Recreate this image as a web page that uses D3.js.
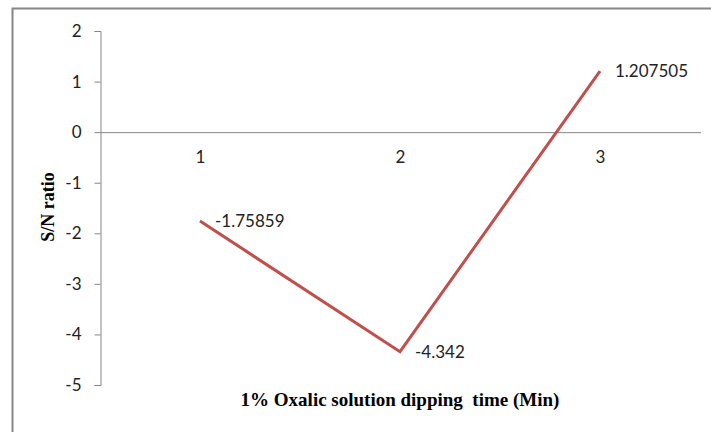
<!DOCTYPE html>
<html><head><meta charset="utf-8">
<script src="https://cdn.jsdelivr.net/npm/d3@7"></script>
<style>body{margin:0;background:#fff}svg{display:block}</style>
</head><body>
<svg id="c" width="711" height="432"></svg>
<script>
const categories = ["1", "2", "3"];
const snValues = [-1.75859, -4.342, 1.207505];
const valueLabels = ["-1.75859", "-4.342", "1.207505"];
const yTicks = [2, 1, 0, -1, -2, -3, -4, -5];
const xTitle = "1% Oxalic solution dipping  time (Min)";
const yTitle = "S/N ratio";

const labelFont = "Lato, 'Open Sans', sans-serif";
const titleFont = "'Liberation Serif', 'Times New Roman', serif";

const svg = d3.select("#c");
svg.append("rect").attr("x", 12.5).attr("y", 8.5).attr("width", 710).attr("height", 440)
  .attr("fill", "none").attr("stroke", "#868686").attr("stroke-width", 2);

const x = d3.scalePoint().domain(categories).range([100, 700]).padding(0.5);
const y = d3.scaleLinear().domain([-5, 2]).range([385, 31]);

const yAxis = d3.axisLeft(y).tickValues(yTicks).tickSize(6).tickPadding(13).tickFormat(d => String(d));
const gy = svg.append("g").attr("transform", "translate(100.5,0)").call(yAxis);
gy.select(".domain").attr("stroke", "#868686");
gy.selectAll(".tick line").attr("stroke", "#868686");
gy.selectAll(".tick text").attr("font-family", labelFont).attr("font-size", 17).attr("fill", "#222");

const xAxis = d3.axisBottom(x).tickSize(0).tickPadding(19);
const gx = svg.append("g").attr("transform", `translate(0,${y(0)})`).call(xAxis);
gx.select(".domain").attr("stroke", "#868686").attr("d", "M100,0.5H701");
gx.selectAll(".tick text").attr("font-family", labelFont).attr("font-size", 17).attr("fill", "#222");

const line = d3.line().x((d, i) => x(categories[i])).y(d => y(d));
svg.append("path").datum(snValues).attr("d", line)
  .attr("fill", "none").attr("stroke", "#C0504D").attr("stroke-width", 3);

svg.selectAll(".vl").data(snValues).enter().append("text")
  .attr("x", (d, i) => x(categories[i]) + 15)
  .attr("y", d => y(d) + 6)
  .attr("font-family", labelFont).attr("font-size", 17).attr("fill", "#222")
  .text((d, i) => valueLabels[i]);

svg.append("text").attr("x", 400).attr("y", 406).attr("text-anchor", "middle")
  .attr("font-family", titleFont).attr("font-weight", "bold")
  .attr("font-size", 19).style("white-space", "pre").text(xTitle);

svg.append("text").attr("transform", "translate(54,207) rotate(-90)").attr("text-anchor", "middle")
  .attr("font-family", titleFont).attr("font-weight", "bold")
  .attr("font-size", 18).text(yTitle);
</script>
</body></html>
